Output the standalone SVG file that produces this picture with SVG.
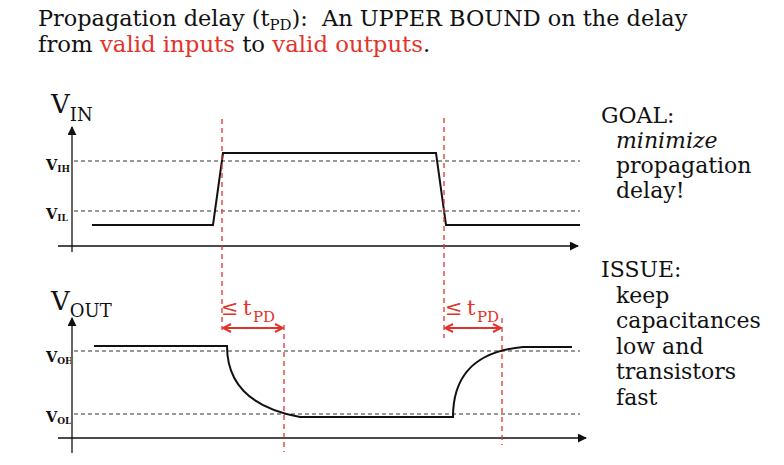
<svg xmlns="http://www.w3.org/2000/svg" width="784" height="465" viewBox="0 0 784 465">
<defs>
<style>
.t{font-family:"DejaVu Serif","Liberation Serif",serif;fill:#111}
.r{fill:#e2332b}
.lb{font-family:"DejaVu Serif","Liberation Serif",serif;font-weight:bold;fill:#111}
.ax{stroke:#666;stroke-width:2;fill:none}
.hx{stroke:#111;stroke-width:1.6;fill:none}
.dash{stroke:#333;stroke-width:1;stroke-dasharray:4 3;fill:none}
.sig{stroke:#111;stroke-width:2;fill:none}
.rd{stroke:#e2332b;stroke-width:1.3;stroke-dasharray:5 4;fill:none}
.ra{stroke:#e2332b;stroke-width:2;fill:none}
</style>
<marker id="ah" viewBox="0 0 10 10" refX="9" refY="5" markerWidth="9" markerHeight="9" markerUnits="userSpaceOnUse" orient="auto">
<path d="M0,0 L10,5 L0,10 Z" fill="#111"/>
</marker>
<marker id="rh" viewBox="0 0 10 10" refX="9" refY="5" markerWidth="10" markerHeight="10" markerUnits="userSpaceOnUse" orient="auto-start-reverse">
<path d="M1,1 L9,5 L1,9" fill="none" stroke="#e2332b" stroke-width="2"/>
</marker>
</defs>
<rect width="784" height="465" fill="#fff"/>

<g id="title">
<text class="t" x="38" y="26" font-size="22.4">Propagation delay (t<tspan font-size="15" dy="4">PD</tspan><tspan dy="-4">):&#160; An UPPER BOUND on the delay</tspan></text>
<text class="t" x="38" y="52" font-size="22.8">from <tspan class="r">valid inputs</tspan> to <tspan class="r">valid outputs</tspan>.</text>
</g>

<g id="vin-chart">
<text class="t" x="51" y="113" font-size="26">V<tspan font-size="18" dy="8">IN</tspan></text>
<text class="lb" x="46" y="170" font-size="14.5">V<tspan font-size="9" dy="2">IH</tspan></text>
<text class="lb" x="46" y="219" font-size="14.5">V<tspan font-size="9" dy="2">IL</tspan></text>
</g>

<g id="vout-chart">
<text class="t" x="51" y="310" font-size="26">V<tspan font-size="18" dy="7">OUT</tspan></text>
<text class="lb" x="46" y="362" font-size="14.5">V<tspan font-size="9" dy="2">OH</tspan></text>
<text class="lb" x="46" y="422" font-size="14.5">V<tspan font-size="9" dy="2">OL</tspan></text>
</g>

<g id="notes">
<text class="t" font-size="22"><tspan x="601" y="123">GOAL:</tspan><tspan x="616" y="148" font-style="italic">minimize</tspan><tspan x="616" y="173">propagation</tspan><tspan x="616" y="198">delay!</tspan></text>
<text class="t" font-size="22"><tspan x="601" y="277">ISSUE:</tspan><tspan x="616" y="302.5">keep</tspan><tspan x="616" y="328">capacitances</tspan><tspan x="616" y="353.5">low and</tspan><tspan x="616" y="379">transistors</tspan><tspan x="616" y="404.5">fast</tspan></text>
</g>

<g id="tpd-labels">
<text class="t r" font-size="21" x="221 233 243" y="315">≤ t<tspan font-size="15" x="253" dy="7">PD</tspan></text>
<text class="t r" font-size="21" x="445 457 467" y="315">≤ t<tspan font-size="15" x="477" dy="7">PD</tspan></text>
</g>

<g id="connectors">
<line class="ax" x1="72" y1="252" x2="72" y2="127" marker-end="url(#ah)"/>
<line class="hx" x1="58" y1="246" x2="578" y2="246" marker-end="url(#ah)"/>
<line class="ax" x1="72" y1="453" x2="72" y2="318" marker-end="url(#ah)"/>
<line class="hx" x1="58" y1="438" x2="586" y2="438" marker-end="url(#ah)"/>
<line class="dash" x1="74" y1="161" x2="580" y2="161"/>
<line class="dash" x1="74" y1="211" x2="580" y2="211"/>
<line class="dash" x1="74" y1="351" x2="580" y2="351"/>
<line class="dash" x1="74" y1="414" x2="580" y2="414"/>
<path class="sig" d="M92,225 L213,225 L223,153 L436,153 L446,225 L580,225"/>
<path class="sig" d="M94,346 L227,346 C227,375 240,406 300,417 L453,417 C453,380 470,352 523,347 L572,347"/>
<line class="rd" x1="222" y1="119" x2="222" y2="330"/>
<line class="rd" x1="444" y1="118" x2="444" y2="338"/>
<line class="rd" x1="284" y1="325" x2="284" y2="452"/>
<line class="rd" x1="502" y1="318" x2="502" y2="445"/>
<line class="ra" x1="223" y1="328" x2="283" y2="328" marker-start="url(#rh)" marker-end="url(#rh)"/>
<line class="ra" x1="445" y1="328" x2="501" y2="328" marker-start="url(#rh)" marker-end="url(#rh)"/>
</g>
</svg>
